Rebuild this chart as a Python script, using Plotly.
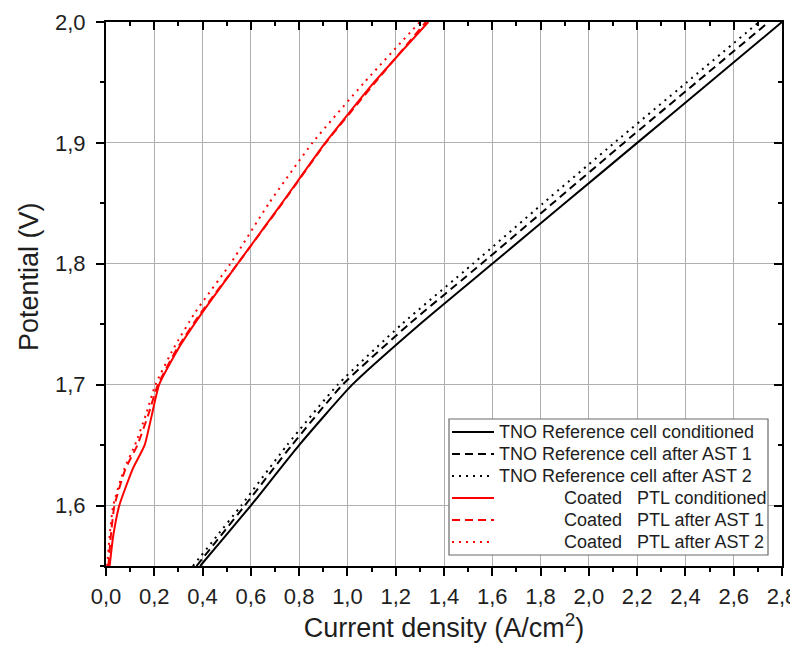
import plotly.graph_objects as go

# Black: TNO Reference cell
ref_y = [1.55, 1.575, 1.6, 1.65, 1.7, 1.75, 1.8, 1.85, 1.9, 1.95, 2.0]
ref_cond_x = [0.39, 0.495, 0.6, 0.8, 1.02, 1.3, 1.6, 1.9, 2.2, 2.5, 2.8]
ref_ast1_x = [0.375, 0.475, 0.575, 0.77, 0.98, 1.255, 1.555, 1.85, 2.145, 2.445, 2.745]
ref_ast2_x = [0.36, 0.46, 0.56, 0.75, 0.96, 1.225, 1.52, 1.81, 2.105, 2.405, 2.705]

# Red: Coated PTL
ptl_y = [1.55, 1.575, 1.6, 1.63, 1.65, 1.675, 1.7, 1.73, 1.76, 1.8, 1.85, 1.9, 1.95, 2.0]
ptl_cond_x = [0.015, 0.03, 0.055, 0.11, 0.16, 0.19, 0.22, 0.3, 0.4, 0.545, 0.728, 0.908, 1.11, 1.335]
ptl_ast1_x = [0.01, 0.02, 0.035, 0.08, 0.13, 0.175, 0.215, 0.295, 0.395, 0.545, 0.73, 0.91, 1.115, 1.325]
ptl_ast2_x = [0.005, 0.015, 0.03, 0.075, 0.12, 0.165, 0.205, 0.28, 0.37, 0.515, 0.675, 0.855, 1.07, 1.3]

NB = "\u00a0"
names = [
    "TNO Reference cell conditioned",
    "TNO Reference cell after AST 1",
    "TNO Reference cell after AST 2",
    NB * 13 + "Coated" + NB * 3 + "PTL conditioned",
    NB * 13 + "Coated" + NB * 3 + "PTL after AST 1",
    NB * 13 + "Coated" + NB * 3 + "PTL after AST 2",
]

FONT = "Liberation Sans, Arial, sans-serif"
TXT = "#1e1e1e"
DASH = "8px,5px"
DOT = "2px,5px"

# page has an 8px body margin; size the figure so the plot area lands at the reference position
OFF = 8
W, H = 790, 635
ML, MR, MT, MB = 98, 16, 14, 77
PW, PH = W - ML - MR, H - MT - MB


def px(x):
    return (x - OFF - ML) / PW


def py(y):
    return (H - MB - (y - OFF)) / PH


fig = go.Figure()
series = [
    (ref_cond_x, ref_y, "black", "solid"),
    (ref_ast1_x, ref_y, "black", DASH),
    (ref_ast2_x, ref_y, "black", DOT),
    (ptl_cond_x, ptl_y, "#ff0000", "solid"),
    (ptl_ast1_x, ptl_y, "#ff0000", DASH),
    (ptl_ast2_x, ptl_y, "#ff0000", DOT),
]
for (xs, ys, col, dash), nm in zip(series, names):
    fig.add_trace(go.Scatter(x=xs, y=ys, mode="lines", name=nm, showlegend=False,
                             line=dict(color=col, width=2, dash=dash, shape="spline", smoothing=0.5)))

# empty trace to create top/right mirror axes
fig.add_trace(go.Scatter(x=[], y=[], xaxis="x2", yaxis="y2", showlegend=False, hoverinfo="skip"))

# manual legend (box, samples, labels)
shapes = [dict(type="rect", xref="paper", yref="paper",
               x0=px(449), x1=px(768), y0=py(555), y1=py(419),
               line=dict(color="#6a6a6a", width=1.2), fillcolor="white", layer="above")]
annotations = []
row_y = [432, 454, 476, 498, 520, 542]
for (xs, ys, col, dash), nm, ry in zip(series, names, row_y):
    shapes.append(dict(type="line", xref="paper", yref="paper",
                       x0=px(452), x1=px(494), y0=py(ry), y1=py(ry),
                       line=dict(color=col, width=2, dash=dash), layer="above"))
    annotations.append(dict(text=nm, xref="paper", yref="paper", x=px(497), y=py(ry),
                            xanchor="left", yanchor="middle", showarrow=False,
                            font=dict(family=FONT, size=18, color=TXT)))

annotations.append(dict(text="Potential (V)", xref="paper", yref="paper",
                        x=px(29), y=py(277), textangle=-90, xanchor="center", yanchor="middle",
                        showarrow=False, font=dict(family=FONT, size=27, color=TXT)))

tickfont = dict(family=FONT, size=22, color=TXT)
fig.update_layout(
    width=W, height=H,
    margin=dict(l=ML, r=MR, t=MT, b=MB, autoexpand=False),
    paper_bgcolor="white", plot_bgcolor="white",
    separators=", ",
    font=dict(family=FONT, color=TXT),
    showlegend=False,
    shapes=shapes,
    annotations=annotations,
    xaxis=dict(range=[0, 2.8], dtick=0.2, tick0=0, tickformat=".1f",
               showgrid=True, gridcolor="#b0b0b0", gridwidth=1,
               showline=True, linecolor="black", linewidth=2,
               ticks="outside", ticklen=8, tickwidth=2, tickcolor="black",
               minor=dict(dtick=0.1, ticks="outside", ticklen=4, tickwidth=1.5,
                          tickcolor="black", showgrid=False),
               tickfont=tickfont, zeroline=False, automargin=False,
               ticklabelstandoff=2, ticklabeloverflow="allow",
               title=dict(text="Current density (A/cm<sup>2</sup>)",
                          font=dict(family=FONT, size=27, color=TXT), standoff=6)),
    yaxis=dict(range=[1.55, 2.0], dtick=0.1, tick0=0, tickformat=".1f",
               showgrid=True, gridcolor="#b0b0b0", gridwidth=1,
               showline=True, linecolor="black", linewidth=2,
               ticks="outside", ticklen=8, tickwidth=2, tickcolor="black",
               minor=dict(dtick=0.05, ticks="outside", ticklen=4, tickwidth=1.5,
                          tickcolor="black", showgrid=False),
               tickfont=tickfont, zeroline=False, automargin=False,
               ticklabelstandoff=6),
    xaxis2=dict(overlaying="x", side="top", anchor="y2", range=[0, 2.8], dtick=0.2, tick0=0,
                showgrid=False, showline=True, linecolor="black", linewidth=2,
                ticks="inside", ticklen=8, tickwidth=2, tickcolor="black",
                minor=dict(dtick=0.1, ticks="inside", ticklen=4, tickwidth=1.5, tickcolor="black"),
                showticklabels=False, zeroline=False, automargin=False),
    yaxis2=dict(overlaying="y", side="right", anchor="x2", range=[1.55, 2.0], dtick=0.1, tick0=0,
                showgrid=False, showline=True, linecolor="black", linewidth=2,
                ticks="inside", ticklen=8, tickwidth=2, tickcolor="black",
                minor=dict(dtick=0.05, ticks="inside", ticklen=4, tickwidth=1.5, tickcolor="black"),
                showticklabels=False, zeroline=False, automargin=False),
)

fig.write_html("out.html")
